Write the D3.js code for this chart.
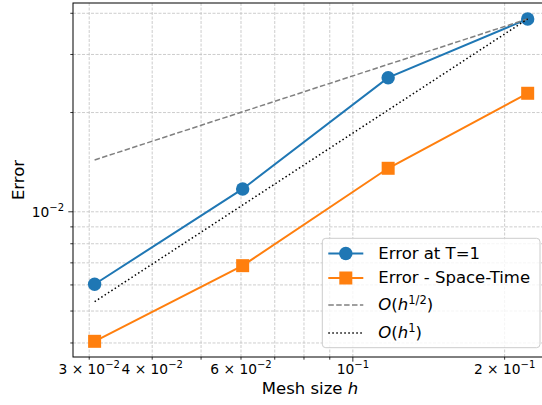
<!DOCTYPE html>
<html>
<head>
<meta charset="utf-8">
<script src="https://cdn.jsdelivr.net/npm/d3@7"></script>
<style>
  body { margin: 0; background: #fff; }
  text { font-family: "DejaVu Sans", sans-serif; fill: #000; }
</style>
</head>
<body>
<div id="chart"></div>
<script>
// mesh sizes
var meshSize = [0.03075, 0.06046, 0.1175, 0.2222];
// errors
var errEnd = [0.006028, 0.01173, 0.02551, 0.03845];
var errSpaceTime = [0.004047, 0.006864, 0.01355, 0.02288];
// reference slopes, endpoints only
var refH = [0.03075, 0.2222];
var refHalf = [0.01436, 0.03845];
var refOne = [0.005337, 0.03845];

var xGrid = [0.03, 0.04, 0.05, 0.06, 0.07, 0.08, 0.09, 0.1, 0.2];
var yGrid = [0.004, 0.005, 0.006, 0.007, 0.008, 0.009, 0.01, 0.02, 0.03, 0.04];
var xLabels = [
    {v: 0.03, m: "3\u00a0\u00d7\u00a010", e: "\u22122"},
    {v: 0.04, m: "4\u00a0\u00d7\u00a010", e: "\u22122"},
    {v: 0.06, m: "6\u00a0\u00d7\u00a010", e: "\u22122"},
    {v: 0.1, m: "10", e: "\u22121"},
    {v: 0.2, m: "2\u00a0\u00d7\u00a010", e: "\u22121"}
];
var yMajor = [0.01];

function draw_chart() {
    "use strict";
    var W = 542, H = 405;
    var L = 73, R = 547, T = 3, B = 357;

    var svg = d3.select("#chart")
        .append("svg")
        .attr("width", W)
        .attr("height", H);

    svg.append("rect").attr("width", W).attr("height", H).attr("fill", "#fff");

    var x = d3.scaleLog().domain([0.02786, 0.2427]).range([L, R]);
    var y = d3.scaleLog().domain([0.003627, 0.04298]).range([B, T]);

    // grid
    var grid = svg.append("g")
        .attr("stroke", "#c0c0c0")
        .attr("stroke-width", 0.8)
        .attr("stroke-dasharray", "3,1.5");
    grid.selectAll("line.vx")
        .data(xGrid)
        .enter()
        .append("line")
        .attr("x1", function (d) { return x(d); })
        .attr("x2", function (d) { return x(d); })
        .attr("y1", T)
        .attr("y2", B);
    grid.selectAll("line.hy")
        .data(yGrid)
        .enter()
        .append("line")
        .attr("y1", function (d) { return y(d); })
        .attr("y2", function (d) { return y(d); })
        .attr("x1", L)
        .attr("x2", R);

    // ticks
    var ticks = svg.append("g").attr("stroke", "#000").attr("stroke-width", 0.8);
    ticks.selectAll("line.tx")
        .data(xGrid)
        .enter()
        .append("line")
        .attr("x1", function (d) { return x(d); })
        .attr("x2", function (d) { return x(d); })
        .attr("y1", B)
        .attr("y2", function (d) { return B + (d === 0.1 ? 4.7 : 2.7); });
    ticks.selectAll("line.ty")
        .data(yGrid)
        .enter()
        .append("line")
        .attr("y1", function (d) { return y(d); })
        .attr("y2", function (d) { return y(d); })
        .attr("x1", L)
        .attr("x2", function (d) { return L - (yMajor.indexOf(d) >= 0 ? 4.7 : 2.7); });

    // tick labels
    var xl = svg.selectAll("text.xl")
        .data(xLabels)
        .enter()
        .append("text")
        .attr("x", function (d) { return x(d.v); })
        .attr("y", 374)
        .attr("text-anchor", "middle")
        .style("font-size", "13.8px");
    xl.append("tspan").text(function (d) { return d.m; });
    xl.append("tspan")
        .attr("dy", -5.6)
        .style("font-size", "10px")
        .text(function (d) { return d.e; });

    var yl = svg.selectAll("text.yl")
        .data(yMajor)
        .enter()
        .append("text")
        .attr("x", 64)
        .attr("y", function (d) { return y(d) + 5.2; })
        .attr("text-anchor", "end")
        .style("font-size", "13.8px");
    yl.append("tspan").text("10");
    yl.append("tspan").attr("dy", -5.6).style("font-size", "10px").text("\u22122");

    // axis titles
    var xt = svg.append("text")
        .attr("x", (L + R) / 2)
        .attr("y", 394.3)
        .attr("text-anchor", "middle")
        .style("font-size", "16.5px");
    xt.append("tspan").text("Mesh size ");
    xt.append("tspan").style("font-style", "italic").text("h");

    svg.append("text")
        .attr("transform", "translate(23.5," + (T + B) / 2 + ") rotate(-90)")
        .attr("text-anchor", "middle")
        .style("font-size", "16.5px")
        .text("Error");

    var line = d3.line()
        .x(function (d) { return x(d[0]); })
        .y(function (d) { return y(d[1]); });

    // series
    var blue = "#1f77b4", orange = "#ff7f0e";
    svg.append("path")
        .attr("d", line(d3.zip(meshSize, errEnd)))
        .attr("fill", "none").attr("stroke", blue).attr("stroke-width", 2);
    svg.selectAll("circle.b")
        .data(d3.zip(meshSize, errEnd))
        .enter()
        .append("circle")
        .attr("cx", function (d) { return x(d[0]); })
        .attr("cy", function (d) { return y(d[1]); })
        .attr("r", 6.7)
        .attr("fill", blue);

    svg.append("path")
        .attr("d", line(d3.zip(meshSize, errSpaceTime)))
        .attr("fill", "none").attr("stroke", orange).attr("stroke-width", 2);
    svg.selectAll("rect.o")
        .data(d3.zip(meshSize, errSpaceTime))
        .enter()
        .append("rect")
        .attr("x", function (d) { return x(d[0]) - 6.5; })
        .attr("y", function (d) { return y(d[1]) - 6.5; })
        .attr("width", 13)
        .attr("height", 13)
        .attr("fill", orange);

    svg.append("path")
        .attr("d", line(d3.zip(refH, refHalf)))
        .attr("fill", "none").attr("stroke", "#808080").attr("stroke-width", 1.5)
        .attr("stroke-dasharray", "5.5,2.4");
    svg.append("path")
        .attr("d", line(d3.zip(refH, refOne)))
        .attr("fill", "none").attr("stroke", "#000").attr("stroke-width", 1.5)
        .attr("stroke-dasharray", "1.5,2.5");

    // spines
    svg.append("rect")
        .attr("x", L).attr("y", T)
        .attr("width", R - L).attr("height", B - T)
        .attr("fill", "none").attr("stroke", "#000").attr("stroke-width", 1);

    // legend
    var lg = svg.append("g");
    lg.append("rect")
        .attr("x", 322.3).attr("y", 238.3)
        .attr("width", 217.7).attr("height", 109.4)
        .attr("rx", 3.5)
        .attr("fill", "#fff").attr("fill-opacity", 0.8)
        .attr("stroke", "#cccccc").attr("stroke-width", 1);

    var rows = [253.5, 278, 305, 333];
    var hx1 = 328.3, hx2 = 363.3, tx = 378.3;

    lg.append("line").attr("x1", hx1).attr("x2", hx2).attr("y1", rows[0]).attr("y2", rows[0])
        .attr("stroke", blue).attr("stroke-width", 2);
    lg.append("circle").attr("cx", (hx1 + hx2) / 2).attr("cy", rows[0]).attr("r", 6.7).attr("fill", blue);
    lg.append("line").attr("x1", hx1).attr("x2", hx2).attr("y1", rows[1]).attr("y2", rows[1])
        .attr("stroke", orange).attr("stroke-width", 2);
    lg.append("rect").attr("x", (hx1 + hx2) / 2 - 6.5).attr("y", rows[1] - 6.5)
        .attr("width", 13).attr("height", 13).attr("fill", orange);
    lg.append("line").attr("x1", hx1).attr("x2", hx2).attr("y1", rows[2]).attr("y2", rows[2])
        .attr("stroke", "#808080").attr("stroke-width", 1.5).attr("stroke-dasharray", "5.5,2.4");
    lg.append("line").attr("x1", hx1).attr("x2", hx2).attr("y1", rows[3]).attr("y2", rows[3])
        .attr("stroke", "#000").attr("stroke-width", 1.5).attr("stroke-dasharray", "1.5,2.5");

    lg.append("text").attr("x", tx).attr("y", rows[0] + 5).style("font-size", "16.5px").text("Error at T=1");
    lg.append("text").attr("x", tx).attr("y", rows[1] + 5).style("font-size", "16.5px").text("Error - Space-Time");

    var mathRow = function (yy, exp) {
        var t = lg.append("text").attr("x", tx).attr("y", yy + 5).style("font-size", "16.5px");
        t.append("tspan").style("font-style", "italic").text("O");
        t.append("tspan").text("(");
        t.append("tspan").style("font-style", "italic").text("h");
        t.append("tspan").attr("dy", -6.5).style("font-size", "11.5px").text(exp);
        t.append("tspan").attr("dy", 6.5).text(")");
    };
    mathRow(rows[2], "1/2");
    mathRow(rows[3], "1");
}

draw_chart();
</script>
</body>
</html>
